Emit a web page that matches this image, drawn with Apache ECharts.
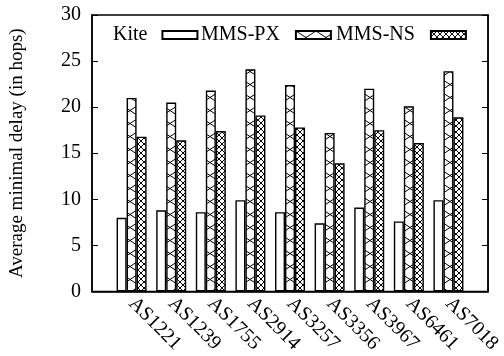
<!DOCTYPE html>
<html>
<head>
<meta charset="utf-8">
<script src="https://cdn.jsdelivr.net/npm/echarts@6/dist/echarts.min.js"></script>
<style>
  html, body { margin: 0; padding: 0; background: #fff; }
  #chart { width: 504px; height: 356px; }
</style>
</head>
<body>
<div id="chart"></div>
<script>
const categories = ['AS1221', 'AS1239', 'AS1755', 'AS2914', 'AS3257', 'AS3356', 'AS3967', 'AS6461', 'AS7018'];
const kite = [8.0, 8.8, 8.6, 9.9, 8.6, 7.4, 9.1, 7.6, 9.9];
const mmsPx = [21.0, 20.5, 21.8, 24.1, 22.4, 17.2, 22.0, 20.1, 23.9];
const mmsNs = [16.8, 16.4, 17.4, 19.1, 17.8, 13.9, 17.5, 16.1, 18.9];
const yTicks = [0, 5, 10, 15, 20, 25, 30];

// empty slot at both ends, like the gnuplot xrange
const pad = arr => ['-'].concat(arr, ['-']);

// hatch tile: both diagonals of a w x h cell
function hatch(w, h) {
  const c = document.createElement('canvas');
  c.width = w;
  c.height = h;
  const g = c.getContext('2d');
  g.fillStyle = '#fff';
  g.fillRect(0, 0, w, h);
  g.strokeStyle = '#000';
  g.lineWidth = 1;
  g.beginPath();
  g.moveTo(0, 0); g.lineTo(w, h);
  g.moveTo(w, 0); g.lineTo(0, h);
  g.stroke();
  return c;
}

const font = 'Liberation Serif';
const fs = 20;
const myChart = echarts.init(document.getElementById('chart'));

function legendItem(name, left, gap) {
  return {
    data: [name],
    left: left,
    top: 25,
    padding: 0,
    align: 'right',
    icon: 'rect',
    itemWidth: 35,
    itemHeight: 8,
    textStyle: { fontFamily: font, fontSize: fs, color: '#000', padding: [0, gap, 0, 0] }
  };
}

myChart.setOption({
  animation: false,
  textStyle: { fontFamily: font },
  legend: [
    legendItem('Kite', 113, 10),
    legendItem('MMS-PX', 201, 11),
    legendItem('MMS-NS', 336, 11)
  ],
  grid: {
    left: 92,
    right: 14,
    top: 15,
    bottom: 64,
    show: true,
    borderColor: '#000',
    borderWidth: 1.5
  },
  xAxis: {
    type: 'category',
    boundaryGap: false,
    data: [''].concat(categories, ['']),
    axisLine: { lineStyle: { color: '#000', width: 1.5 } },
    axisTick: { show: false },
    axisLabel: {
      interval: 0,
      rotate: -45,
      margin: 9,
      color: '#000',
      fontFamily: font,
      fontSize: fs
    },
    splitLine: { show: false }
  },
  yAxis: [
    {
      type: 'value',
      min: yTicks[0],
      max: yTicks[yTicks.length - 1],
      interval: 5,
      name: 'Average minimal delay (in hops)',
      nameLocation: 'middle',
      nameGap: 65,
      nameTextStyle: { fontFamily: font, fontSize: 19, color: '#000' },
      axisLine: { show: true, lineStyle: { color: '#000', width: 1.5 } },
      axisTick: { show: true, inside: true, length: 6, lineStyle: { color: '#000', width: 1 } },
      axisLabel: { color: '#000', fontFamily: font, fontSize: fs, margin: 11 },
      splitLine: { show: false }
    },
    {
      type: 'value',
      position: 'right',
      min: yTicks[0],
      max: yTicks[yTicks.length - 1],
      interval: 5,
      axisLine: { show: true, lineStyle: { color: '#000', width: 1.5 } },
      axisTick: { show: true, inside: true, length: 6, lineStyle: { color: '#000', width: 1 } },
      axisLabel: { show: false },
      splitLine: { show: false }
    }
  ],
  series: [
    {
      name: 'Kite',
      type: 'bar',
      barWidth: 10,
      barGap: '0%',
      data: pad(kite),
      itemStyle: { color: '#fff', borderColor: '#000', borderWidth: 1.4 }
    },
    {
      name: 'MMS-PX',
      type: 'bar',
      barWidth: 10,
      barGap: '0%',
      data: pad(mmsPx),
      itemStyle: { color: { image: hatch(20, 13), repeat: 'repeat' }, borderColor: '#000', borderWidth: 1.4 }
    },
    {
      name: 'MMS-NS',
      type: 'bar',
      barWidth: 10,
      barGap: '0%',
      data: pad(mmsNs),
      itemStyle: { color: { image: hatch(6, 6), repeat: 'repeat' }, borderColor: '#000', borderWidth: 1.4 }
    }
  ]
});

window.addEventListener('resize', () => {
  if (myChart) {
    myChart.resize();
  }
});
</script>
</body>
</html>
